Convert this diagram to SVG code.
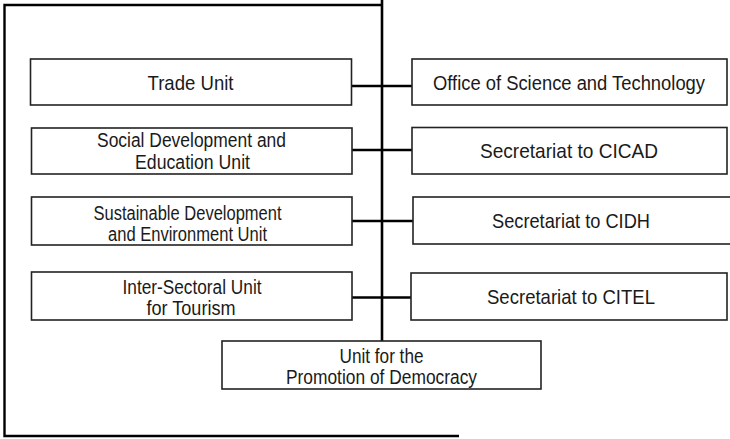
<svg xmlns="http://www.w3.org/2000/svg" width="730" height="439" viewBox="0 0 730 439">
<style>
.box{fill:#fff;stroke:#222;stroke-width:1.6}
.t{font-family:"Liberation Sans Narrow","Liberation Sans",Arial,sans-serif;font-size:21px;fill:#1a1a1a;text-anchor:middle}
.t2{font-family:"Liberation Sans Narrow","Liberation Sans",Arial,sans-serif;font-size:20px;fill:#1a1a1a;text-anchor:middle}
.frame{fill:none;stroke:#000;stroke-width:2.4}
.conn{fill:none;stroke:#000;stroke-width:2.6}
</style>
<rect width="730" height="439" fill="#fff"/>
<g id="frame">
<path class="frame" d="M382 5 H4.5 V436 H459"/>
</g>
<g id="connectors">
<path class="conn" d="M382 0 V341"/>
<path class="conn" d="M351 86 H412"/>
<path class="conn" d="M352 150 H412"/>
<path class="conn" d="M352 221 H413"/>
<path class="conn" d="M352 297.5 H411"/>
</g>
<g id="trade-unit">
<rect class="box" x="30.5" y="59" width="321" height="46"/>
<text class="t" x="190.5" y="89.5" textLength="86" lengthAdjust="spacingAndGlyphs">Trade Unit</text>
</g>
<g id="social-development">
<rect class="box" x="31.5" y="128" width="320.5" height="46"/>
<text class="t2" x="191.5" y="147" textLength="189" lengthAdjust="spacingAndGlyphs">Social Development and</text>
<text class="t2" x="192.5" y="169" textLength="115" lengthAdjust="spacingAndGlyphs">Education Unit</text>
</g>
<g id="sustainable-development">
<rect class="box" x="31.5" y="197" width="320.5" height="48"/>
<text class="t2" x="187.5" y="219.5" textLength="188" lengthAdjust="spacingAndGlyphs">Sustainable Development</text>
<text class="t2" x="187.5" y="240.5" textLength="159" lengthAdjust="spacingAndGlyphs">and Environment Unit</text>
</g>
<g id="inter-sectoral">
<rect class="box" x="31.5" y="272" width="320.5" height="48"/>
<text class="t2" x="192" y="294" textLength="139" lengthAdjust="spacingAndGlyphs">Inter-Sectoral Unit</text>
<text class="t2" x="191" y="315" textLength="89" lengthAdjust="spacingAndGlyphs">for Tourism</text>
</g>
<g id="science-technology">
<rect class="box" x="412" y="59" width="315" height="46"/>
<text class="t" x="569" y="89.5" font-size="20" style="font-size:20px" textLength="272" lengthAdjust="spacingAndGlyphs">Office of Science and Technology</text>
</g>
<g id="cicad">
<rect class="box" x="412" y="127.5" width="315" height="46.5"/>
<text class="t" x="569" y="158" textLength="178" lengthAdjust="spacingAndGlyphs">Secretariat to CICAD</text>
</g>
<g id="cidh">
<rect class="box" x="413" y="197" width="330" height="47"/>
<text class="t" x="571" y="228" textLength="158" lengthAdjust="spacingAndGlyphs">Secretariat to CIDH</text>
</g>
<g id="citel">
<rect class="box" x="411" y="273" width="316" height="47"/>
<text class="t" x="571" y="303.5" textLength="168" lengthAdjust="spacingAndGlyphs">Secretariat to CITEL</text>
</g>
<g id="democracy">
<rect class="box" x="222" y="341" width="319" height="48"/>
<text class="t2" x="381.5" y="362.5" textLength="84" lengthAdjust="spacingAndGlyphs">Unit for the</text>
<text class="t2" x="381.5" y="383.5" textLength="191" lengthAdjust="spacingAndGlyphs">Promotion of Democracy</text>
</g>
</svg>
